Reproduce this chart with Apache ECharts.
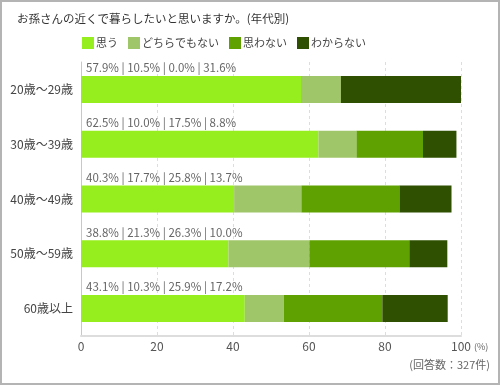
<!DOCTYPE html>
<html><head><meta charset="utf-8">
<script src="https://cdn.jsdelivr.net/npm/echarts@6/dist/echarts.min.js"></script>
<style>html,body{margin:0;padding:0;background:#fff}#c{width:500px;height:385px}</style>
</head><body><div id="c"></div>
<script>
const categories = ['20歳～29歳','30歳～39歳','40歳～49歳','50歳～59歳','60歳以上'];
const seriesNames = ['思う','どちらでもない','思わない','わからない'];
const omou = [57.9, 62.5, 40.3, 38.8, 43.1];
const dochira = [10.5, 10.0, 17.7, 21.3, 10.3];
const omowanai = [0.0, 17.5, 25.8, 26.3, 25.9];
const wakaranai = [31.6, 8.8, 13.7, 10.0, 17.2];
const xTicks = [0, 20, 40, 60, 80, 100];
const colors = ['#97ee1f', '#a0c66a', '#5fa100', '#2f5000'];
const FONT = '"Noto Sans CJK JP", "Noto Sans", sans-serif';
const allVals = [omou, dochira, omowanai, wakaranai];

const chart = echarts.init(document.getElementById('c'), null, {renderer: 'canvas'});
const series = allVals.map((vals, si) => ({
  name: seriesNames[si],
  type: 'bar',
  stack: 'total',
  barWidth: 27,
  data: vals,
  itemStyle: {color: colors[si]},
  emphasis: {disabled: true},
  label: si === 0 ? {
    show: true,
    position: [5, -8],
    verticalAlign: 'middle',
    align: 'left',
    fontFamily: FONT,
    fontSize: 11.5,
    color: '#666',
    formatter: p => allVals.map(a => a[p.dataIndex].toFixed(1) + '%').join(' | ')
  } : {show: false}
}));

chart.setOption({
  animation: false,
  textStyle: {fontFamily: FONT},
  title: {
    text: 'お孫さんの近くで暮らしたいと思いますか。(年代別)',
    left: 12, top: 8,
    textStyle: {fontFamily: FONT, fontSize: 11.5, fontWeight: 'normal', color: '#333'}
  },
  legend: {
    data: seriesNames,
    left: 82, top: 37, padding: 0,
    itemWidth: 12, itemHeight: 12, itemGap: 10,
    icon: 'rect',
    textStyle: {fontFamily: FONT, fontSize: 11, color: '#444', padding: [0, 0, 0, -3]}
  },
  grid: {left: 81, right: 39, top: 62, bottom: 49, containLabel: false},
  xAxis: {
    type: 'value', min: 0, max: 100, interval: 20,
    axisLine: {show: true, lineStyle: {color: '#dddddd', width: 2}},
    axisTick: {show: false},
    splitLine: {show: true, lineStyle: {color: '#dddddd', type: [3, 3], width: 1}},
    axisLabel: {fontFamily: FONT, fontSize: 12, color: '#555', margin: 4,
      formatter: v => xTicks.includes(v) ? String(v) : ''}
  },
  yAxis: {
    type: 'category', data: categories, inverse: true,
    axisLine: {show: true, lineStyle: {color: '#c8c8c8', width: 1}},
    axisTick: {show: false},
    axisLabel: {fontFamily: FONT, fontSize: 12, color: '#444', margin: 8}
  },
  graphic: [
    {type: 'rect', shape: {x: 1, y: 1, width: 498, height: 383}, style: {fill: 'none', stroke: '#b4b4b4', lineWidth: 2}, silent: true},
    {type: 'text', left: 474, top: 342, style: {text: '(%)', fontFamily: FONT, fontSize: 9, fill: '#666'}},
    {type: 'text', right: 10, top: 359, style: {text: '(回答数：327件)', fontFamily: FONT, fontSize: 11, fill: '#666'}}
  ],
  series: series
});
</script></body></html>
